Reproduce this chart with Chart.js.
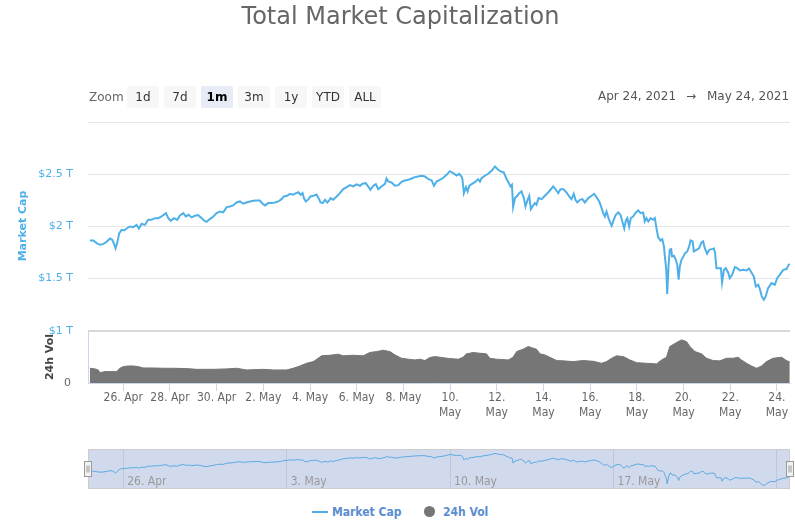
<!DOCTYPE html>
<html>
<head>
<meta charset="utf-8">
<title>Total Market Capitalization</title>
<script src="https://cdn.jsdelivr.net/npm/chart.js@4.4.1/dist/chart.umd.min.js"></script>
<style>
  html, body { margin: 0; padding: 0; background: #fff; }
  #page { position: relative; width: 795px; height: 520px; overflow: hidden; font-family: 'DejaVu Sans', Verdana, sans-serif; }
  #title { position: absolute; left: 0; top: 2px; width: 801px; text-align: center; font-size: 24px; line-height: 28px; color: #666; }
  .zoom-label { position: absolute; left: 89px; top: 86px; height: 22px; line-height: 22px; font-size: 12px; color: #666; }
  .btn { position: absolute; top: 86px; width: 32px; height: 22px; line-height: 22px; text-align: center; font-size: 12px; color: #333; background: #f7f7f7; border-radius: 2px; }
  .btn.on { background: #e6ebf5; color: #000; font-weight: bold; }
  .range { position: absolute; top: 85px; height: 22px; line-height: 22px; font-size: 12px; color: #555; white-space: nowrap; }
  .axis-title { position: absolute; font-weight: bold; font-size: 11px; white-space: nowrap; transform: translate(-50%, -50%) rotate(-90deg); }
  #mainBox { position: absolute; left: 0; top: 0; width: 795px; height: 440px; }
  #navBox { position: absolute; left: 0; top: 440px; width: 795px; height: 60px; }
  .legend-text { position: absolute; top: 504px; line-height: 16px; font-size: 12px; font-weight: bold; color: #5b8dd0;
                 font-family: 'DejaVu Sans Condensed', 'DejaVu Sans', sans-serif; font-stretch: condensed; }
</style>
</head>
<body>
<div id="page">
  <div id="mainBox"><canvas id="mainChart"></canvas></div>
  <div id="navBox"><canvas id="navChart"></canvas></div>

  <div id="title">Total Market Capitalization</div>

  <div class="zoom-label">Zoom</div>
  <div class="btn" style="left:127px">1d</div>
  <div class="btn" style="left:164px">7d</div>
  <div class="btn on" style="left:201px">1m</div>
  <div class="btn" style="left:238px">3m</div>
  <div class="btn" style="left:275px">1y</div>
  <div class="btn" style="left:312px">YTD</div>
  <div class="btn" style="left:349px">ALL</div>

  <div class="range" style="left:598px">Apr 24, 2021</div>
  <div class="range" style="left:686px">&rarr;</div>
  <div class="range" style="left:707px">May 24, 2021</div>

  <div class="axis-title" style="left:22px; top:226px; color:#4fb0e8">Market Cap</div>
  <div class="axis-title" style="left:49px; top:357px; color:#444">24h Vol</div>

  <div style="position:absolute; left:312px; top:511px; width:16px; height:2px; background:#4fb0e8"></div>
  <div class="legend-text" style="left:332px">Market Cap</div>
  <div style="position:absolute; left:424px; top:506px; width:11px; height:11px; border-radius:50%; background:#767676"></div>
  <div class="legend-text" style="left:443px">24h Vol</div>
</div>

<script>
// days counted from Apr 24, 2021 00:00 (2 = Apr 26, 30 = May 24)
const capDays = [
  0.57, 0.72, 0.86, 1.00, 1.14, 1.29, 1.43, 1.53, 1.62, 1.67,
  1.74, 1.83, 1.93, 2.04, 2.14, 2.29, 2.43, 2.57, 2.67, 2.79,
  2.93, 3.07, 3.21, 3.36, 3.50, 3.64, 3.83, 3.93, 4.03, 4.17,
  4.31, 4.43, 4.57, 4.68, 4.80, 4.93, 5.07, 5.21, 5.36, 5.47,
  5.57, 5.71, 5.86, 6.00, 6.14, 6.28, 6.43, 6.57, 6.71, 6.85,
  7.00, 7.14, 7.28, 7.43, 7.57, 7.71, 7.85, 7.97, 8.07, 8.21,
  8.35, 8.50, 8.64, 8.78, 8.88, 9.02, 9.14, 9.28, 9.40, 9.50,
  9.60, 9.68, 9.74, 9.82, 9.94, 10.02, 10.14, 10.28, 10.39, 10.45,
  10.54, 10.64, 10.74, 10.82, 10.88, 10.99, 11.14, 11.28, 11.42, 11.57,
  11.71, 11.85, 11.99, 12.14, 12.25, 12.39, 12.51, 12.59, 12.71, 12.82,
  12.92, 13.06, 13.21, 13.28, 13.35, 13.49, 13.64, 13.78, 13.92, 14.06,
  14.21, 14.35, 14.49, 14.63, 14.78, 14.92, 15.06, 15.21, 15.31,
  15.42, 15.56, 15.71, 15.85, 15.99, 16.13, 16.28, 16.39, 16.49, 16.53,
  16.59, 16.68, 16.75, 16.82, 16.92, 17.06, 17.20, 17.28, 17.35, 17.49,
  17.63, 17.78, 17.92, 18.06, 18.20, 18.30, 18.42, 18.52, 18.59, 18.65,
  18.70, 18.78, 18.88, 18.96, 19.06, 19.16, 19.23, 19.32, 19.39, 19.46,
  19.53, 19.63, 19.70, 19.79, 19.92, 20.06, 20.20, 20.30, 20.42, 20.53,
  20.63, 20.73, 20.85, 20.99, 21.10, 21.20, 21.30, 21.37, 21.45, 21.56,
  21.67, 21.77, 21.92, 22.06, 22.17, 22.27, 22.39, 22.49, 22.56, 22.63,
  22.70, 22.80, 22.92, 23.02, 23.10, 23.20, 23.30, 23.39, 23.46, 23.53,
  23.59, 23.67, 23.74, 23.84, 23.96, 24.06, 24.16, 24.27, 24.34, 24.41,
  24.49, 24.59, 24.70, 24.77, 24.84, 24.91, 25.01, 25.09, 25.16, 25.20,
  25.26, 25.30, 25.36, 25.41, 25.47, 25.51, 25.59, 25.67, 25.73, 25.79,
  25.84, 25.91, 25.99, 26.07, 26.16, 26.24, 26.30, 26.39, 26.44, 26.56,
  26.67, 26.77, 26.84, 26.91, 27.01, 27.10, 27.20, 27.30, 27.35, 27.41,
  27.53, 27.60, 27.65, 27.73, 27.81, 27.91, 27.98, 28.08, 28.20, 28.30,
  28.41, 28.55, 28.70, 28.80, 28.91, 29.01, 29.10, 29.20, 29.27, 29.35,
  29.44, 29.52, 29.62, 29.77, 29.91, 30.01, 30.12, 30.27, 30.41, 30.50,
  30.55
];
// market cap, trillion USD
const capValues = [
  1.865, 1.865, 1.840, 1.824, 1.830, 1.853, 1.884, 1.872, 1.824, 1.789,
  1.840, 1.936, 1.967, 1.961, 1.980, 1.999, 1.993, 2.015, 1.980, 2.025,
  2.015, 2.063, 2.063, 2.079, 2.079, 2.095, 2.127, 2.079, 2.054, 2.079,
  2.063, 2.105, 2.127, 2.095, 2.111, 2.086, 2.102, 2.108, 2.079, 2.054,
  2.044, 2.070, 2.095, 2.127, 2.143, 2.134, 2.185, 2.191, 2.201, 2.229,
  2.239, 2.217, 2.229, 2.239, 2.245, 2.248, 2.248, 2.217, 2.201, 2.223,
  2.223, 2.229, 2.239, 2.261, 2.287, 2.293, 2.312, 2.303, 2.319, 2.328,
  2.303, 2.319, 2.271, 2.239, 2.261, 2.287, 2.293, 2.306, 2.261, 2.229,
  2.223, 2.255, 2.229, 2.248, 2.271, 2.255, 2.287, 2.319, 2.357, 2.376,
  2.395, 2.383, 2.402, 2.389, 2.408, 2.414, 2.376, 2.351, 2.389, 2.405,
  2.357, 2.383, 2.408, 2.459, 2.430, 2.421, 2.389, 2.395, 2.427, 2.440,
  2.446, 2.459, 2.472, 2.478, 2.485, 2.478, 2.456, 2.440, 2.389,
  2.430, 2.446, 2.466, 2.494, 2.529, 2.510, 2.488, 2.504, 2.478, 2.453,
  2.319, 2.376, 2.335, 2.389, 2.405, 2.424, 2.453, 2.430, 2.462, 2.485,
  2.504, 2.533, 2.574, 2.542, 2.523, 2.517, 2.453, 2.414, 2.383, 2.399,
  2.185, 2.271, 2.293, 2.319, 2.335, 2.271, 2.191, 2.255, 2.293, 2.165,
  2.191, 2.223, 2.207, 2.271, 2.261, 2.293, 2.325, 2.351, 2.383, 2.351,
  2.319, 2.357, 2.357, 2.325, 2.287, 2.261, 2.312, 2.255, 2.229, 2.255,
  2.261, 2.229, 2.271, 2.293, 2.312, 2.280, 2.239, 2.175, 2.127, 2.095,
  2.143, 2.070, 2.006, 2.070, 2.111, 2.134, 2.111, 2.038, 1.980, 2.057,
  2.079, 1.999, 2.079, 2.095, 2.134, 2.153, 2.127, 2.134, 2.047, 2.079,
  2.047, 2.079, 2.063, 2.079, 1.983, 1.897, 1.865, 1.878, 1.808, 1.712,
  1.584, 1.354, 1.632, 1.776, 1.782, 1.712, 1.718, 1.680, 1.632, 1.489,
  1.616, 1.680, 1.712, 1.744, 1.760, 1.808, 1.865, 1.856, 1.760, 1.776,
  1.792, 1.846, 1.856, 1.792, 1.738, 1.776, 1.782, 1.789, 1.744, 1.600,
  1.600, 1.600, 1.463, 1.584, 1.600, 1.559, 1.504, 1.536, 1.610, 1.600,
  1.578, 1.584, 1.578, 1.597, 1.559, 1.520, 1.425, 1.441, 1.399, 1.329,
  1.297, 1.329, 1.409, 1.457, 1.441, 1.504, 1.536, 1.584, 1.591, 1.632,
  1.640
];

const volDays = [
  0.57, 0.79, 0.93, 1.00, 1.22, 1.43, 1.71, 1.86, 2.00, 2.21,
  2.43, 2.64, 2.86, 3.29, 3.71, 4.14, 4.71, 5.14, 5.86, 6.43,
  6.85, 7.28, 8.00, 8.42, 9.00, 9.28, 9.57, 9.85, 10.14, 10.35,
  10.49, 10.85, 11.21, 11.42, 11.85, 12.28, 12.56, 12.85, 13.14, 13.42,
  13.64, 13.92, 14.21, 14.49, 14.71, 14.92, 15.13, 15.35, 15.56, 15.78,
  15.99, 16.35, 16.56, 16.70, 16.99, 17.28, 17.56, 17.70, 17.99, 18.49,
  18.70, 18.85, 19.13, 19.35, 19.56, 19.70, 19.85, 20.06, 20.27, 20.56,
  20.85, 21.27, 21.70, 22.13, 22.49, 22.70, 22.92, 23.13, 23.42, 23.70,
  23.99, 24.41, 24.84, 25.06, 25.27, 25.41, 25.70, 25.91, 26.13, 26.27,
  26.49, 26.77, 26.98, 27.27, 27.55, 27.84, 28.13, 28.34, 28.48, 28.70,
  28.91, 29.13, 29.34, 29.55, 29.84, 30.20, 30.41, 30.55
];
// 24h volume, billion USD
const volValues = [
  141, 135, 125, 99, 109, 109, 109, 141, 157, 163,
  163, 157, 144, 144, 141, 141, 138, 131, 131, 135,
  141, 125, 131, 125, 125, 141, 163, 189, 205, 237,
  260, 266, 276, 260, 266, 260, 292, 301, 314, 301,
  269, 237, 228, 221, 228, 215, 244, 253, 247, 240,
  234, 228, 247, 279, 292, 285, 279, 237, 228, 221,
  247, 301, 324, 349, 333, 324, 279, 269, 247, 215,
  212, 205, 215, 208, 189, 205, 237, 260, 253, 221,
  195, 189, 183, 221, 247, 349, 388, 413, 397, 349,
  301, 279, 237, 215, 212, 237, 237, 247, 221, 189,
  163, 141, 163, 205, 237, 247, 215, 202
];

const tickDays = [2, 4, 6, 8, 10, 12, 14, 16, 18, 20, 22, 24, 26, 28, 30];
const tickLabels = ['26. Apr', '28. Apr', '30. Apr', '2. May', '4. May', '6. May', '8. May',
  ['10.', 'May'], ['12.', 'May'], ['14.', 'May'], ['16.', 'May'], ['18.', 'May'],
  ['20.', 'May'], ['22.', 'May'], ['24.', 'May']];
const capTicks = [1, 1.5, 2, 2.5, 3];
const capTickLabels = ['$1 T', '$1.5 T', '$2 T', '$2.5 T', ''];
const navTickDays = [2, 9, 16, 23, 30];
const navTickLabels = ['26. Apr', '3. May', '10. May', '17. May', ''];

const narrow = "'DejaVu Sans Condensed', 'DejaVu Sans', sans-serif";
const plain = "'DejaVu Sans', Verdana, sans-serif";

const capPoints = capDays.map((d, i) => ({ x: d, y: capValues[i] }));
const volPoints = volDays.map((d, i) => ({ x: d, y: volValues[i] }));

const mainChart = new Chart(document.getElementById('mainChart'), {
  type: 'line',
  data: {
    datasets: [
      {
        label: 'Market Cap',
        data: capPoints,
        yAxisID: 'y',
        borderColor: '#4fb0e8',
        borderWidth: 2,
        pointRadius: 0,
        tension: 0,
        fill: false
      },
      {
        label: '24h Vol',
        data: volPoints,
        yAxisID: 'yVol',
        borderColor: '#767676',
        backgroundColor: '#767676',
        borderWidth: 1,
        pointRadius: 0,
        tension: 0,
        fill: 'origin'
      }
    ]
  },
  options: {
    responsive: true,
    maintainAspectRatio: false,
    animation: false,
    layout: { padding: { top: 122, right: 5, left: 0, bottom: 0 } },
    plugins: {
      legend: { display: false },
      tooltip: { enabled: false }
    },
    scales: {
      x: {
        type: 'linear',
        min: 0.49,
        max: 30.56,
        afterFit: (s) => { s.height = 57; },
        afterBuildTicks: (s) => { s.ticks = tickDays.map(v => ({ value: v })); },
        ticks: {
          autoSkip: false,
          maxRotation: 0,
          minRotation: 0,
          padding: 0,
          color: '#666',
          font: { family: narrow, size: 12, lineHeight: 1.2 },
          callback: (v, i) => tickLabels[i]
        },
        grid: { drawOnChartArea: false, drawTicks: true, tickLength: 8, color: '#ccd6eb' },
        border: { display: true, color: '#ccd6eb' }
      },
      // defined first so it sits below the price pane in the stack
      yVol: {
        type: 'linear',
        position: 'left',
        stack: 'left',
        stackWeight: 1,
        min: 0,
        max: 500,
        afterFit: (s) => { s.width = 88; },
        afterBuildTicks: (s) => { s.ticks = [{ value: 0 }]; },
        ticks: { color: '#666', padding: 17, font: { family: plain, size: 11 }, callback: () => '0' },
        grid: { display: false, drawTicks: false },
        border: { display: true, color: '#ccd6eb' }
      },
      y: {
        type: 'linear',
        position: 'left',
        stack: 'left',
        stackWeight: 4,
        min: 1,
        max: 3,
        afterFit: (s) => { s.width = 88; },
        afterBuildTicks: (s) => { s.ticks = capTicks.map(v => ({ value: v })); },
        ticks: {
          color: '#4fb0e8',
          padding: 15,
          font: { family: plain, size: 11 },
          callback: (v, i) => capTickLabels[i]
        },
        grid: {
          drawTicks: false,
          color: (c) => (c.tick && c.tick.value === 1 ? '#d8d8d8' : '#e6e6e6'),
          lineWidth: (c) => (c.tick && c.tick.value === 1 ? 2 : 1)
        },
        border: { display: false }
      }
    }
  }
});

// navigator: mask over the whole (selected) range, outline, handles, week labels
const navigatorPlugin = {
  id: 'navigatorDecor',
  beforeDatasetsDraw(chart) {
    const { ctx, chartArea: a } = chart;
    ctx.save();
    ctx.fillStyle = 'rgba(102, 133, 194, 0.3)';
    ctx.fillRect(a.left, a.top, a.right - a.left, a.bottom - a.top);
    ctx.restore();
  },
  afterDraw(chart) {
    const { ctx, chartArea: a, scales } = chart;
    ctx.save();
    ctx.font = '12px ' + narrow;
    ctx.fillStyle = '#999';
    ctx.textBaseline = 'middle';
    navTickDays.forEach((d, i) => {
      ctx.fillText(navTickLabels[i], scales.x.getPixelForValue(d) + 4, a.top + 32.5);
    });
    ctx.strokeStyle = '#cccccc';
    ctx.lineWidth = 1;
    ctx.strokeRect(a.left + 0.5, a.top + 0.5, a.right - a.left - 1, a.bottom - a.top - 1);
    [a.left, a.right].forEach(x => {
      const hx = Math.round(x) - 3.5;
      const hy = Math.round(a.top) + 12.5;
      ctx.fillStyle = '#f2f2f2';
      ctx.fillRect(hx, hy, 7, 15);
      ctx.strokeStyle = '#999';
      ctx.strokeRect(hx, hy, 7, 15);
      ctx.beginPath();
      ctx.moveTo(hx + 2.5, hy + 4); ctx.lineTo(hx + 2.5, hy + 11);
      ctx.moveTo(hx + 4.5, hy + 4); ctx.lineTo(hx + 4.5, hy + 11);
      ctx.stroke();
    });
    ctx.restore();
  }
};

const navChart = new Chart(document.getElementById('navChart'), {
  type: 'line',
  data: {
    datasets: [{
      data: capPoints,
      borderColor: '#5aa8e0',
      borderWidth: 1,
      pointRadius: 0,
      tension: 0,
      fill: false
    }]
  },
  options: {
    responsive: true,
    maintainAspectRatio: false,
    animation: false,
    layout: { padding: { top: 9, bottom: 11, left: 88, right: 5 } },
    plugins: {
      legend: { display: false },
      tooltip: { enabled: false }
    },
    scales: {
      x: {
        type: 'linear',
        min: 0.49,
        max: 30.56,
        afterFit: (s) => { s.height = 0; },
        afterBuildTicks: (s) => { s.ticks = navTickDays.map(v => ({ value: v })); },
        ticks: { display: false },
        grid: { color: '#e6e6e6', drawTicks: false },
        border: { display: false }
      },
      y: { display: false, min: 1.15, max: 2.75 }
    }
  },
  plugins: [navigatorPlugin]
});
</script>
</body>
</html>
